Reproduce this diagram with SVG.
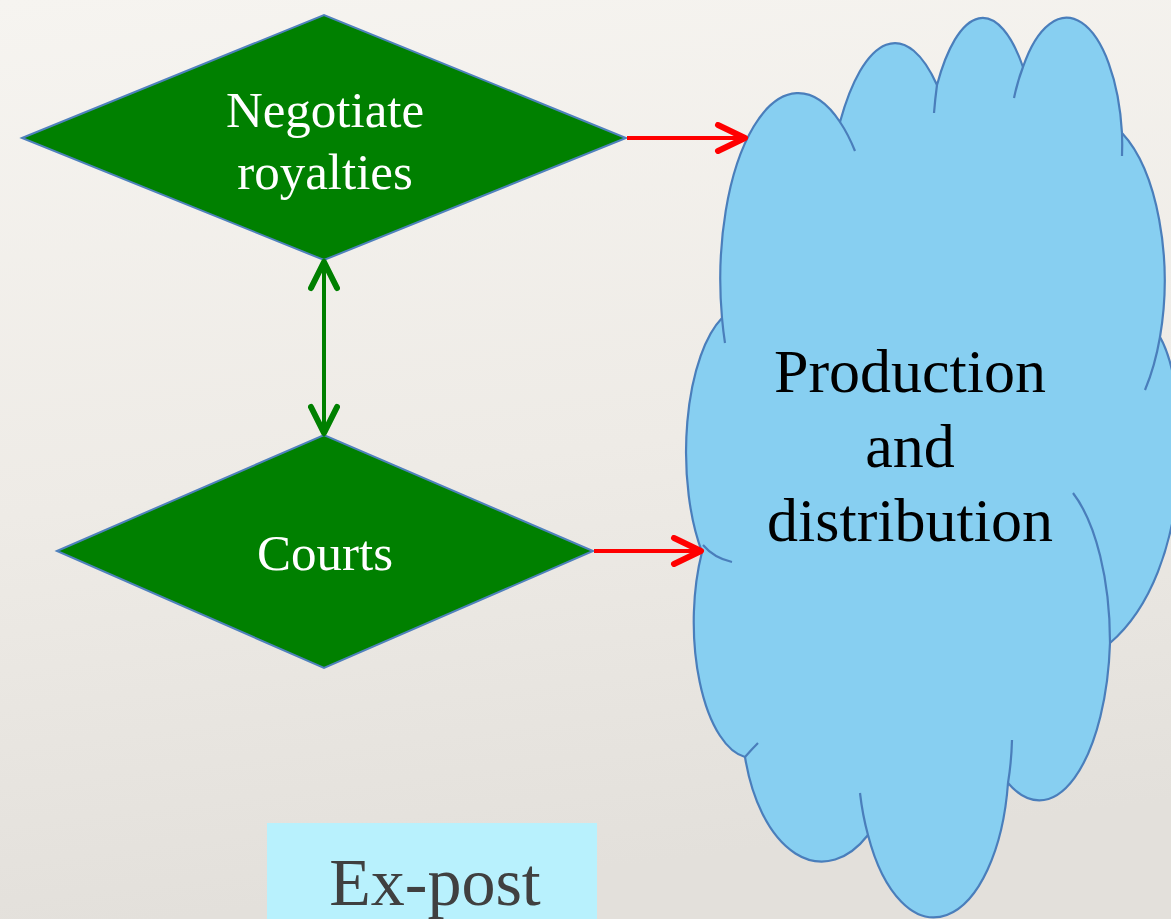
<svg xmlns="http://www.w3.org/2000/svg" width="1171" height="919" viewBox="0 0 1171 919">
<defs>
<linearGradient id="bg" x1="0" y1="0" x2="0.15" y2="1">
<stop offset="0" stop-color="#f6f4f0"/>
<stop offset="0.55" stop-color="#eeebe6"/>
<stop offset="1" stop-color="#e3e0db"/>
</linearGradient>
<marker id="redHead" viewBox="-32 -16 36 32" refX="0" refY="0" markerWidth="36" markerHeight="32" markerUnits="userSpaceOnUse" orient="auto">
<path d="M -27,-13 L 0,0 L -27,13" fill="none" stroke="#ff0000" stroke-width="6" stroke-linecap="round" stroke-linejoin="round"/>
</marker>
<marker id="greenHead" viewBox="-32 -16 36 32" refX="0" refY="0" markerWidth="36" markerHeight="32" markerUnits="userSpaceOnUse" orient="auto-start-reverse">
<path d="M -26,-13 L 0,0 L -26,13" fill="none" stroke="#008000" stroke-width="6" stroke-linecap="round" stroke-linejoin="round"/>
</marker>
</defs>
<style>
.diamond{fill:#008000;stroke:#4f81bd;stroke-width:2}
.dtext{font-family:"Liberation Serif","Times New Roman",serif;font-size:51px;fill:#ffffff;text-anchor:middle}
.cloud{fill:#87cff1;stroke:#4a7ebb;stroke-width:2.2;stroke-linejoin:round}
.tail{fill:none;stroke:#4a7ebb;stroke-width:2.2;stroke-linecap:butt}
.ctext{font-family:"Liberation Serif","Times New Roman",serif;font-size:62px;fill:#000000;text-anchor:middle}
.red{fill:none;stroke:#ff0000;stroke-width:4;marker-end:url(#redHead)}
.green{fill:none;stroke:#008000;stroke-width:4;marker-start:url(#greenHead);marker-end:url(#greenHead)}
</style>
<rect x="0" y="0" width="1171" height="919" fill="url(#bg)"/>

<g id="negotiate">
<polygon class="diamond" points="22,138 324,15 626,138 324,260"/>
<text class="dtext" x="325" y="127">Negotiate</text>
<text class="dtext" x="325" y="189">royalties</text>
</g>

<g id="courts">
<polygon class="diamond" points="57,551 324,435 593,551 324,668"/>
<text class="dtext" x="325" y="570">Courts</text>
</g>

<g id="production">
<path class="cloud" d="M 722,318 A 78 186 0 0 1 840,122 A 72 223 0 0 1 937,85 A 60 190 0 0 1 1023,67 A 56 133 0 0 1 1122,133 A 77 165 0 0 1 1160,337 C 1190,390 1195,570 1110,643 A 71 170 0 0 1 1008,783 A 75 158 0 0 1 868,835 A 80 145 0 0 1 745,757 A 58 136 0 0 1 702,552 A 58 145 0 0 1 722,318 Z"/>
<path class="tail" d="M 840,122 A 78 186 0 0 1 855,151"/>
<path class="tail" d="M 937,85 A 60 190 0 0 0 934,113"/>
<path class="tail" d="M 1023,67 A 56 133 0 0 0 1014,98"/>
<path class="tail" d="M 1122,133 A 56 133 0 0 1 1122,156"/>
<path class="tail" d="M 1160,337 A 77 165 0 0 1 1145,390"/>
<path class="tail" d="M 1110,643 A 71 170 0 0 0 1073,493"/>
<path class="tail" d="M 1008,783 A 75 158 0 0 0 1012,740"/>
<path class="tail" d="M 868,835 A 75 158 0 0 1 860,793"/>
<path class="tail" d="M 745,757 Q 752,749 758,743"/>
<path class="tail" d="M 703,545 Q 714,558 732,562"/>
<path class="tail" d="M 722,318 A 78 186 0 0 0 725,343"/>
<text class="ctext" x="910" y="392">Production</text>
<text class="ctext" x="910" y="467">and</text>
<text class="ctext" x="910" y="541">distribution</text>
</g>

<g id="expost">
<rect x="267" y="823" width="330" height="96" fill="#b8f1fd"/>
<text x="435" y="905" font-family="Liberation Serif, Times New Roman, serif" font-size="68" fill="#404040" text-anchor="middle">Ex-post</text>
</g>

<g id="connectors">
<line class="red" x1="627" y1="138" x2="745" y2="138"/>
<line class="red" x1="594" y1="551" x2="701" y2="551"/>
<line class="green" x1="324" y1="262" x2="324" y2="433"/>
</g>
</svg>
